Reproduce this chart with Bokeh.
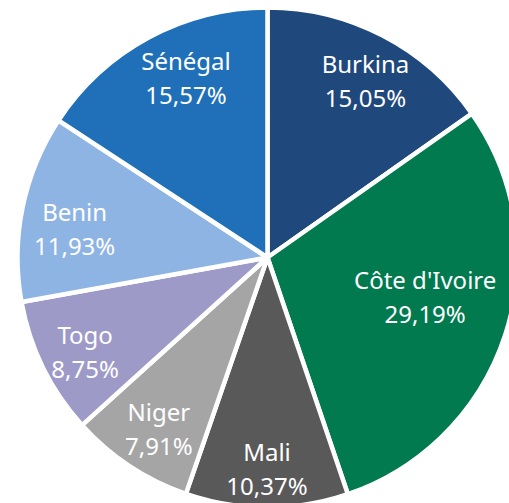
import math
from bokeh.plotting import figure
from bokeh.models import Range1d, ColumnDataSource
from bokeh.core.properties import value
from bokeh.embed import file_html
from bokeh.resources import INLINE

# Data (clockwise from 12 o'clock)
countries = ["Burkina", "Côte d'Ivoire", "Mali", "Niger", "Togo", "Benin", "Sénégal"]
shares = [15.05, 29.19, 10.37, 7.91, 8.75, 11.93, 15.57]
colors = ["#1F497D", "#007A4E", "#595959", "#A5A5A5", "#9E9AC8", "#8EB4E3", "#1F70B8"]

# layout
W, H = 509, 503
cx, cy = 267, H - 257
R = 250
label_radius_factor = [0.81, 0.65, 0.845, 0.81, 0.82, 0.78, 0.79]
label_angle_nudge = [1.5, -4, 0, -1, -1, -3, 4]  # degrees

total = sum(shares)
starts, ends, lx, ly, pct = [], [], [], [], []
cum = 0.0
for i, v in enumerate(shares):
    a0 = cum / total * 2 * math.pi
    cum += v
    a1 = cum / total * 2 * math.pi
    starts.append(math.pi / 2 - a0)
    ends.append(math.pi / 2 - a1)
    mid = (a0 + a1) / 2 + math.radians(label_angle_nudge[i])
    rl = R * label_radius_factor[i]
    lx.append(cx + rl * math.sin(mid))
    ly.append(cy + rl * math.cos(mid))
    pct.append(f"{v:.2f}".replace(".", ",") + "%")

src = ColumnDataSource(dict(start=starts, end=ends, color=colors,
                            lx=lx, ly=ly, name=countries, pct=pct))

p = figure(width=W, height=H, output_backend="svg", toolbar_location=None,
           x_range=Range1d(0, W), y_range=Range1d(0, H), min_border=0)
p.axis.visible = False
p.grid.visible = False
p.outline_line_color = None
p.background_fill_color = "white"

p.wedge(x=cx, y=cy, radius=R, start_angle="start", end_angle="end",
        direction="clock", fill_color="color", line_color="white",
        line_width=4.5, source=src)

common = dict(text_color="white", text_align="center", text_baseline="middle",
              text_font=value("Noto Sans"), text_font_size="24px",
              text_font_style="normal", source=src)
p.text(x="lx", y="ly", text="name", y_offset=-17, **common)
p.text(x="lx", y="ly", text="pct", y_offset=17, **common)

open("out.html", "w").write(file_html(p, INLINE))
